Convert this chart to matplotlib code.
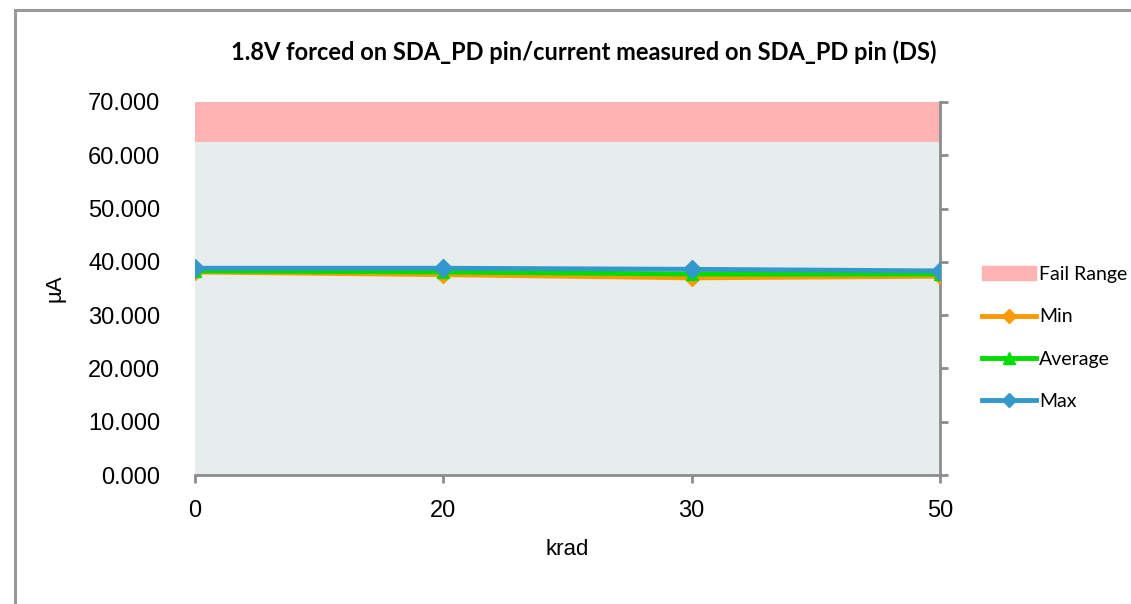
import matplotlib
matplotlib.use('Agg')
from matplotlib import pyplot as plt
from matplotlib.lines import Line2D
from matplotlib.patches import Patch
import numpy as np

krad = ['0', '20', '30', '50']
min_vals = [38.1, 37.6, 37.0, 37.3]
avg_vals = [38.3, 38.1, 37.7, 37.7]
max_vals = [38.8, 38.8, 38.6, 38.3]
fail_low = 62.4
fail_high = 70.0

plt.rcParams['font.family'] = ['Liberation Sans', 'DejaVu Sans']

fig = plt.figure(figsize=(11.31, 6.04), dpi=100)
ax = fig.add_axes([195 / 1131, 1 - 475 / 604, 745 / 1131, 373 / 604])

x = np.arange(len(krad))
ax.fill_between(x, 0, fail_low, color='#e7ecec', lw=0, zorder=1)
ax.fill_between(x, fail_low, fail_high, color='#ffb3b3', lw=0, zorder=1)

ax.plot(x, min_vals, color='#ff9900', lw=3.5, marker='D', ms=8, zorder=3)
ax.plot(x, avg_vals, color='#00dd00', lw=3.5, marker='^', ms=9, zorder=4)
ax.plot(x, max_vals, color='#3399cc', lw=3.5, marker='D', ms=9, zorder=5)

ax.set_xlim(0, 3)
ax.set_ylim(0, 70)
ax.set_xticks(x)
ax.set_xticklabels(krad)
ax.set_yticks(np.arange(0, 71, 10))
ax.set_yticklabels(['%.3f' % v for v in np.arange(0, 71, 10)])

for s in ['left', 'top']:
    ax.spines[s].set_visible(False)
for s in ['right', 'bottom']:
    ax.spines[s].set_color('#8c8c8c')
    ax.spines[s].set_linewidth(2)
ax.tick_params(axis='y', left=False, right=True, labelleft=True, labelright=False,
               direction='out', length=6, width=2, color='#8c8c8c', pad=19, labelsize=17)
ax.tick_params(axis='x', direction='out', length=6, width=2, color='#8c8c8c',
               pad=12, labelsize=17)

ax.set_xlabel('krad', fontsize=16, labelpad=12)
ax.set_ylabel('µA', fontsize=16, labelpad=16)

fig.text(584 / 1131, 1 - 52 / 604,
         '1.8V forced on SDA_PD pin/current measured on SDA_PD pin (DS)',
         ha='center', va='center', fontsize=17, fontweight='bold',
         family=['Lato', 'DejaVu Sans'])

handles = [Patch(color='#ffb3b3', label='Fail Range'),
           Line2D([], [], color='#ff9900', lw=3.5, marker='D', ms=7, label='Min'),
           Line2D([], [], color='#00dd00', lw=3.5, marker='^', ms=8, label='Average'),
           Line2D([], [], color='#3399cc', lw=3.5, marker='D', ms=7, label='Max')]
fig.legend(handles=handles, loc='center left', bbox_to_anchor=(968 / 1131, 1 - 338 / 604),
           frameon=False, prop={'family': ['Lato', 'DejaVu Sans'], 'size': 14},
           handlelength=2.8, handletextpad=0.15, labelspacing=1.3, borderpad=0.2)

fig.add_artist(Line2D([15 / 1131, 15 / 1131], [0, 1 - 10 / 604], color='#999999', lw=2.2))
fig.add_artist(Line2D([15 / 1131, 1], [1 - 10 / 604, 1 - 10 / 604], color='#999999', lw=2.2))

fig.savefig('out.png', dpi=100)
